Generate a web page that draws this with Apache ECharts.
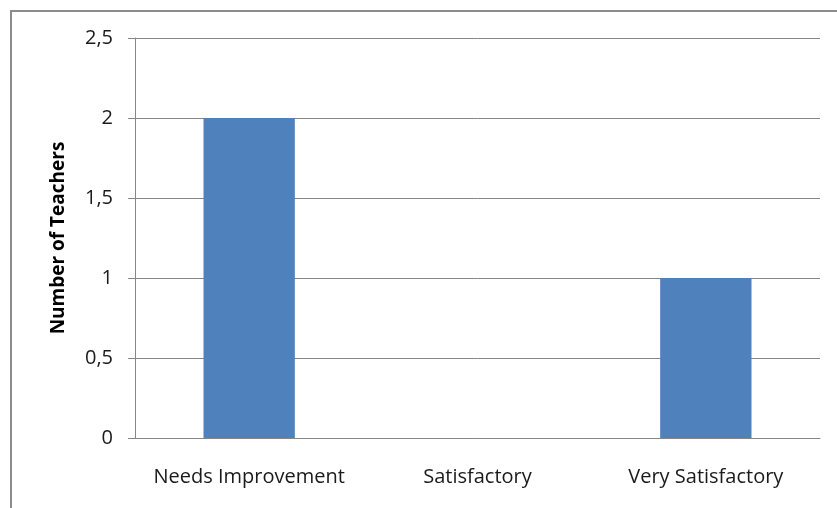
<!DOCTYPE html>
<html>
<head>
<meta charset="utf-8">
<script src="https://cdn.jsdelivr.net/npm/echarts@6/dist/echarts.min.js"></script>
<style>
  html, body { margin: 0; padding: 0; background: #fff; }
  #chart { width: 837px; height: 508px; }
</style>
</head>
<body>
<div id="chart"></div>
<script>
// Teacher rating counts, single-series column chart.
const categories = ['Needs Improvement', 'Satisfactory', 'Very Satisfactory'];
const teacherCounts = [2, 0, 1];
const yTicks = [0, 0.5, 1, 1.5, 2, 2.5];

const chart = echarts.init(document.getElementById('chart'), null, { renderer: 'canvas' });
const FONT = 'Open Sans';

chart.setOption({
  backgroundColor: '#fff',
  animation: false,
  textStyle: { fontFamily: FONT },
  graphic: [
    {
      type: 'polyline',
      shape: { points: [[11, 520], [11, 11], [850, 11]] },
      style: { stroke: '#8c8c8c', lineWidth: 2, fill: null },
    },
  ],
  grid: { left: 135, right: 17, top: 38, bottom: 70 },
  xAxis: {
    type: 'category',
    data: categories,
    axisLine: { lineStyle: { color: '#868686', width: 1 } },
    axisTick: { show: false },
    axisLabel: { color: '#1a1a1a', fontSize: 20, margin: 29, interval: 0, fontFamily: FONT },
  },
  yAxis: {
    type: 'value',
    min: yTicks[0],
    max: yTicks[yTicks.length - 1],
    interval: 0.5,
    name: 'Number of Teachers',
    nameLocation: 'middle',
    nameGap: 67,
    nameTextStyle: { color: '#000', fontSize: 19, fontWeight: 'bold', fontFamily: FONT },
    axisLine: { show: true, lineStyle: { color: '#868686', width: 1 } },
    axisTick: { show: true, length: 7, lineStyle: { color: '#868686' } },
    axisLabel: {
      color: '#1a1a1a',
      fontSize: 20,
      margin: 22,
      fontFamily: FONT,
      formatter: (v) => String(v).replace('.', ','),
    },
    splitLine: { lineStyle: { color: '#868686', width: 1 } },
  },
  series: [
    {
      type: 'bar',
      data: teacherCounts,
      barWidth: '40%',
      itemStyle: { color: '#4f81bd' },
    },
  ],
});
</script>
</body>
</html>
